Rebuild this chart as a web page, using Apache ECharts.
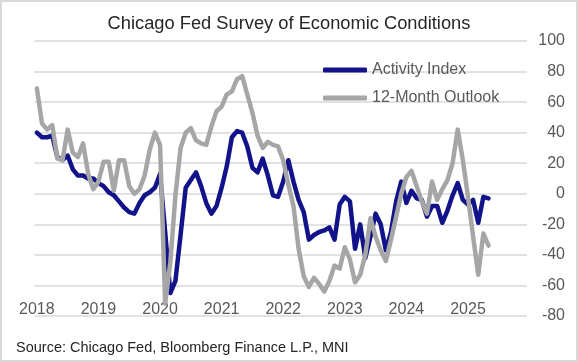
<!DOCTYPE html>
<html>
<head>
<meta charset="utf-8">
<script src="https://cdn.jsdelivr.net/npm/echarts@6/dist/echarts.min.js"></script>
<style>
html,body{margin:0;padding:0;background:#fff;}
#chart{width:578px;height:362px;}
</style>
</head>
<body>
<div id="chart"></div>
<script>
// Year tick labels (one per January)
const years = ['2018','2019','2020','2021','2022','2023','2024','2025'];
const monthNames = ['Jan','Feb','Mar','Apr','May','Jun','Jul','Aug','Sep','Oct','Nov','Dec'];

// Activity Index, monthly from Jan 2018
const activityIndex = [
  40, 37, 37, 38, 24, 22, 25, 16, 12, 12, 10, 10,
  7, 5, 1, -1, -5, -9, -12, -13, -6, -1, 1, 4,
  13, -25, -65, -57, -27, 4, 9, 14, 5, -6, -13, -8,
  4, 18, 37, 41, 40, 31, 17, 14, 23, 12, -1, -2,
  8, 22, 8, -4, -12, -30, -27, -25, -24, -22, -30, -7,
  -2, -5, -36, -20, -42, -28, -13, -20, -37, -25, -5, 8,
  -6, 2, -3, -4, -15, -8, -8, -19, -11, -1, 7, -4,
  -7, -4, -19, -2, -3
];

// 12-Month Outlook, monthly from Jan 2018
const outlook12m = [
  69, 46, 42, 45, 23, 22, 42, 27, 24, 33, 13, 3,
  8, 21, 21, 2, 22, 22, 5, 0, 3, 12, 29, 40,
  32, -72, -45, -1, 30, 40, 43, 35, 33, 32, 44, 54,
  57, 65, 67, 75, 77, 65, 53, 38, 30, 34, 32, 31,
  22, 6, -8, -36, -54, -61, -55, -59, -64, -57, -47, -49,
  -35, -43, -58, -53, -40, -16, -28, -37, -44, -30, -15, 0,
  11, 15, 5, -5, -13, 8, -4, 3, 9, 20, 42, 22,
  -2, -28, -53, -26, -34
];

const categories = [];
years.forEach(y => monthNames.forEach(m => categories.push(m + ' ' + y)));

const FONT = 'Liberation Sans, Arial, sans-serif';
const chart = echarts.init(document.getElementById('chart'), null, {renderer: 'canvas'});
chart.setOption({
  animation: false,
  backgroundColor: '#ffffff',
  title: {
    text: 'Chicago Fed Survey of Economic Conditions',
    left: 'center',
    top: 10,
    textStyle: {fontFamily: FONT, fontSize: 18.3, fontWeight: 'normal', color: '#262626'}
  },
  legend: {
    data: ['Activity Index', '12-Month Outlook'],
    orient: 'vertical',
    left: 318,
    top: 56,
    itemWidth: 44,
    itemHeight: 5,
    itemGap: 10,
    icon: 'roundRect',
    textStyle: {fontFamily: FONT, fontSize: 16, color: '#595959', lineHeight: 18}
  },
  grid: {left: 34.3, right: 51, top: 41, bottom: 46, containLabel: false},
  xAxis: {
    type: 'category',
    data: categories,
    boundaryGap: true,
    axisLine: {show: false},
    axisTick: {show: false},
    splitLine: {show: false},
    axisLabel: {
      interval: (idx) => idx % 12 === 0,
      formatter: (v) => v.split(' ')[1],
      margin: -14,
      fontFamily: FONT,
      fontSize: 16,
      color: '#595959'
    }
  },
  yAxis: {
    type: 'value',
    position: 'right',
    min: -80,
    max: 100,
    interval: 20,
    axisLine: {show: false},
    axisTick: {show: false},
    splitLine: {lineStyle: {color: '#d9d9d9', width: 1.5}},
    axisLabel: {
      align: 'right',
      margin: 38,
      fontFamily: FONT,
      fontSize: 16,
      color: '#595959'
    }
  },
  series: [
    {
      name: 'Activity Index',
      type: 'line',
      data: activityIndex,
      showSymbol: false,
      symbol: 'none',
      color: '#12128a',
      lineStyle: {width: 4.5, color: '#12128a', cap: 'round', join: 'round'}
    },
    {
      name: '12-Month Outlook',
      type: 'line',
      data: outlook12m,
      showSymbol: false,
      symbol: 'none',
      color: '#a6a6a6',
      lineStyle: {width: 4.5, color: '#a6a6a6', cap: 'round', join: 'round'}
    }
  ],
  graphic: [
    {
      type: 'rect',
      shape: {x: 1, y: 1, width: 576, height: 360},
      style: {fill: null, stroke: '#d9d9d9', lineWidth: 2},
      silent: true
    },
    {
      type: 'text',
      left: 16,
      top: 340,
      style: {text: 'Source: Chicago Fed, Bloomberg Finance L.P., MNI', fontFamily: FONT, fontSize: 14.5, fill: '#262626'}
    }
  ]
});
</script>
</body>
</html>
